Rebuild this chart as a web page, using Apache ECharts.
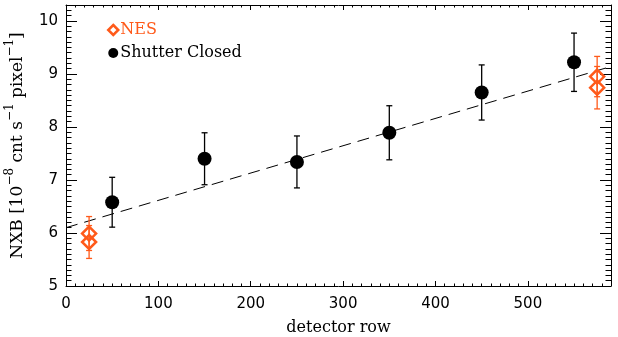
<!DOCTYPE html>
<html><head><meta charset="utf-8">
<script src="https://cdn.jsdelivr.net/npm/echarts@6/dist/echarts.min.js"></script>
<style>html,body{margin:0;padding:0;background:#fff}#c{width:618px;height:337px}</style>
</head><body><div id="c"></div>
<script>
// Shutter Closed data
const scRow = [50, 150, 250, 350, 450, 550];
const scVal = [6.58, 7.40, 7.34, 7.89, 8.65, 9.22];
const scErr = [0.47, 0.49, 0.49, 0.51, 0.52, 0.55];
// NES data
const nesRow = [25, 25, 575, 575];
const nesVal = [5.99, 5.83, 8.95, 8.74];
const nesErr = [0.32, 0.31, 0.38, 0.40];
// linear fit
const fitRow = [0, 590];
const fitVal = [6.10, 9.14];
// axis ticks
const xTicks = [0, 100, 200, 300, 400, 500];
const yTicks = [5, 6, 7, 8, 9, 10];

const ORANGE = '#ff5a1a';
const serif = 'DejaVu Serif';
const sans = 'DejaVu Sans';

function errSeries(xs, ys, es, color, cap) {
  return {
    type: 'custom', xAxisIndex: 0, yAxisIndex: 0, silent: true, z: 2,
    data: xs.map((x, i) => [x, ys[i] - es[i], ys[i] + es[i]]),
    renderItem: function (params, api) {
      const lo = api.coord([api.value(0), api.value(1)]);
      const hi = api.coord([api.value(0), api.value(2)]);
      const st = { stroke: color, lineWidth: 1.3 };
      return { type: 'group', children: [
        { type: 'line', shape: { x1: lo[0], y1: lo[1], x2: hi[0], y2: hi[1] }, style: st },
        { type: 'line', shape: { x1: lo[0] - cap, y1: lo[1], x2: lo[0] + cap, y2: lo[1] }, style: st },
        { type: 'line', shape: { x1: hi[0] - cap, y1: hi[1], x2: hi[0] + cap, y2: hi[1] }, style: st }
      ]};
    }
  };
}

const chart = echarts.init(document.getElementById('c'), null, { renderer: 'canvas' });
const xMin = 0, xMax = 590, yMin = 5, yMax = 10.3;
function axisCommon(lenMajor, lenMinor, showLabel, margin) {
  return {
    axisLine: { show: true, onZero: false, lineStyle: { color: '#000', width: 1 } },
    axisTick: { show: true, inside: true, length: lenMajor, lineStyle: { color: '#000', width: 1 } },
    minorTick: { show: true, splitNumber: 10, length: lenMinor, lineStyle: { color: '#000', width: 1 } },
    splitLine: { show: false },
    axisLabel: { show: showLabel, showMaxLabel: false, margin: margin, color: '#000', fontFamily: sans, fontSize: 15 }
  };
}
const option = {
  animation: false,
  backgroundColor: '#fff',
  grid: { left: 66, right: 7, top: 5, bottom: 51, containLabel: false, outerBoundsMode: 'none' },
  legend: {
    orient: 'vertical', left: 102, top: 17, itemGap: 7,
    itemWidth: 10, itemHeight: 10,
    textStyle: { fontFamily: serif, fontSize: 16, color: '#000', padding: [0, 0, 0, -3] },
    data: [
      { name: 'NES', icon: 'diamond', textStyle: { color: ORANGE },
        itemStyle: { color: '#fff', borderColor: ORANGE, borderWidth: 2.5 } },
      { name: 'Shutter Closed', icon: 'circle', itemStyle: { color: '#000' } }
    ]
  },
  xAxis: [
    Object.assign({ type: 'value', min: xMin, max: xMax, interval: 100, position: 'bottom',
      name: 'detector row', nameLocation: 'middle', nameGap: 34,
      nameTextStyle: { fontFamily: serif, fontSize: 16, color: '#000' } }, axisCommon(5, 2.5, true, 11)),
    Object.assign({ type: 'value', min: xMin, max: xMax, interval: 100, position: 'top' }, axisCommon(5, 2.5, false, 8))
  ],
  yAxis: [
    Object.assign({ type: 'value', min: yMin, max: yMax, interval: 1, position: 'left',
      name: '{a|NXB [10}{s|−8}{a| cnt s}{s|−1}{a| pixel}{s|−1}{a|]}', nameLocation: 'middle', nameGap: 40,
      nameTextStyle: { fontFamily: serif, fontSize: 16, color: '#000',
        rich: {
          a: { fontFamily: serif, fontSize: 17, color: '#000', lineHeight: 22, verticalAlign: 'bottom' },
          s: { fontFamily: serif, fontSize: 12, color: '#000', lineHeight: 22, verticalAlign: 'top' }
        } } }, axisCommon(11, 5.5, true, 8)),
    Object.assign({ type: 'value', min: yMin, max: yMax, interval: 1, position: 'right' }, axisCommon(11, 5.5, false, 8))
  ],
  series: [
    { name: 'fit', type: 'line', data: fitRow.map((x, i) => [x, fitVal[i]]), symbol: 'none',
      lineStyle: { color: '#000', width: 1, type: [12, 7] }, silent: true, z: 1 },
    errSeries(scRow, scVal, scErr, '#000', 3),
    errSeries(nesRow, nesVal, nesErr, ORANGE, 3),
    { name: 'Shutter Closed', type: 'scatter', data: scRow.map((x, i) => [x, scVal[i]]),
      symbol: 'circle', symbolSize: 14, itemStyle: { color: '#000', opacity: 1 }, z: 3 },
    { name: 'NES', type: 'scatter', data: nesRow.map((x, i) => [x, nesVal[i]]),
      symbol: 'diamond', symbolSize: [14, 14], itemStyle: { color: 'rgba(255,255,255,0)', borderColor: ORANGE, borderWidth: 2.5, opacity: 1 }, z: 3 }
  ]
};
chart.setOption(option);
</script></body></html>
